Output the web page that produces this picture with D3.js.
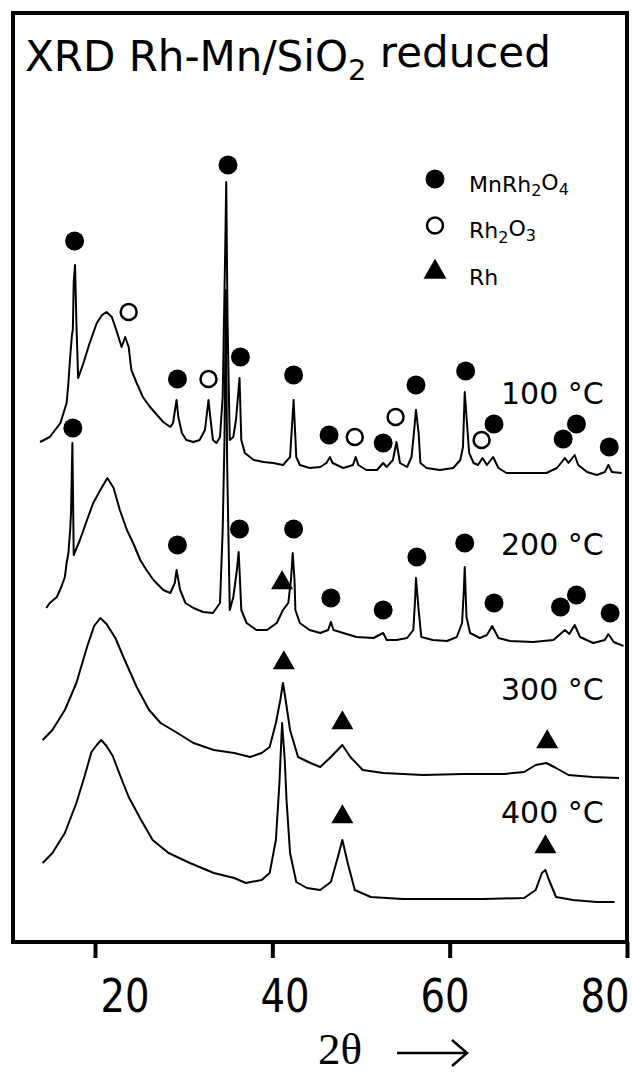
<!DOCTYPE html>
<html>
<head>
<meta charset="utf-8">
<script src="https://cdn.jsdelivr.net/npm/d3@7"></script>
<style>
  body { margin: 0; background: #fff; }
  text { font-family: "DejaVu Sans", Verdana, sans-serif; fill: #000; white-space: pre; }
</style>
</head>
<body>
<svg width="632" height="1074"></svg>
<script>
// diffraction patterns, [2theta, intensity (a.u., stacked offsets)]
const pattern100 = [
  [13.8, 500], [14.9, 505], [16.1, 519], [16.8, 539], [17.0, 559], [17.2, 585], [17.4, 607],
  [17.5, 612], [17.6, 660], [17.75, 677], [17.9, 620], [18.1, 564], [18.7, 579], [19.4, 599],
  [20.2, 619], [20.8, 627], [21.3, 630], [21.9, 625], [22.4, 612], [23.0, 595], [23.4, 605],
  [23.8, 595], [24.1, 572], [24.7, 559], [25.4, 545], [26.2, 535], [27.0, 527], [27.7, 520],
  [28.5, 515], [28.8, 519], [29.2, 542], [29.4, 525], [29.8, 509], [30.3, 502], [31.1, 500],
  [31.8, 502], [32.4, 512], [32.8, 542], [33.0, 525], [33.3, 502], [33.7, 499], [34.1, 505],
  [34.4, 545], [34.7, 700], [34.8, 760], [34.95, 620], [35.2, 502], [35.6, 505], [35.9, 522],
  [36.3, 564], [36.5, 502], [36.9, 489], [37.9, 482], [39.0, 480], [40.1, 479], [41.2, 477],
  [42.0, 485], [42.4, 542], [42.7, 485], [43.1, 477], [44.2, 474], [45.4, 475], [46.1, 479],
  [46.5, 485], [46.8, 479], [48.0, 474], [49.1, 477], [49.4, 485], [49.7, 477], [50.6, 472],
  [51.8, 472], [52.5, 479], [52.9, 475], [53.6, 482], [54.0, 500], [54.4, 479], [55.2, 475],
  [55.7, 485], [56.0, 512], [56.2, 532], [56.5, 509], [56.7, 479], [57.4, 474], [58.9, 472],
  [60.4, 474], [61.2, 482], [61.5, 495], [61.7, 550], [61.9, 525], [62.2, 489], [62.7, 479],
  [63.2, 477], [63.7, 484], [64.2, 477], [64.9, 485], [65.5, 474], [66.4, 469], [68.7, 469],
  [70.9, 469], [72.1, 474], [73.0, 484], [73.4, 479], [74.1, 487], [74.5, 477], [75.5, 470],
  [76.6, 467], [77.5, 470], [77.9, 477], [78.3, 470], [79.4, 469]
];
const pattern200 = [
  [14.5, 334], [14.9, 339], [15.7, 345], [16.2, 355], [16.6, 365], [16.8, 379], [17.0, 389],
  [17.2, 412], [17.3, 430], [17.45, 499], [17.6, 387], [18.3, 402], [19.1, 422], [19.8, 439],
  [20.6, 452], [21.4, 464], [22.1, 454], [22.8, 432], [23.6, 412], [24.3, 399], [25.1, 382],
  [25.8, 372], [26.6, 362], [27.7, 352], [28.5, 349], [29.0, 359], [29.2, 372], [29.6, 352],
  [30.2, 339], [31.1, 334], [32.2, 330], [33.3, 329], [34.1, 339], [34.4, 412], [34.6, 500],
  [34.75, 652], [34.9, 480], [35.2, 332], [35.6, 345], [36.0, 372], [36.2, 390], [36.3, 372],
  [36.5, 332], [37.1, 319], [38.2, 312], [39.4, 312], [40.5, 319], [41.2, 332], [41.8, 339],
  [42.1, 362], [42.3, 389], [42.5, 362], [42.6, 332], [43.1, 319], [44.2, 312], [45.4, 309],
  [46.3, 312], [46.6, 320], [46.9, 312], [48.0, 309], [49.5, 305], [51.4, 304], [52.5, 309],
  [52.9, 302], [54.0, 302], [55.2, 304], [55.9, 312], [56.1, 342], [56.2, 364], [56.5, 332],
  [56.8, 305], [58.1, 302], [59.7, 301], [60.8, 305], [61.4, 319], [61.6, 352], [61.7, 375],
  [61.9, 325], [62.3, 309], [63.4, 304], [64.2, 307], [64.8, 316], [65.5, 304], [66.8, 301],
  [69.4, 300], [71.7, 302], [73.0, 312], [73.5, 308], [74.1, 317], [74.7, 305], [76.2, 299],
  [77.5, 302], [77.9, 308], [78.5, 300], [79.6, 296]
];
const pattern300 = [
  [14.1, 202], [15.2, 212], [16.6, 232], [17.9, 259], [19.1, 295], [19.9, 316], [20.6, 324],
  [21.3, 318], [22.3, 304], [23.3, 283], [24.7, 255], [26.1, 232], [27.4, 219], [29.3, 209],
  [31.1, 199], [33.4, 192], [35.7, 189], [37.5, 185], [38.8, 189], [39.7, 195], [40.4, 219],
  [40.9, 242], [41.2, 259], [41.5, 242], [42.0, 212], [42.9, 185], [44.3, 179], [45.4, 175],
  [46.6, 185], [47.9, 197], [48.8, 185], [50.2, 172], [52.5, 169], [57.0, 167], [61.6, 168],
  [66.1, 168], [68.4, 170], [69.7, 177], [70.9, 179], [72.0, 174], [73.4, 167], [76.1, 165],
  [79.1, 164]
];
const pattern400 = [
  [14.1, 79], [15.2, 89], [16.6, 109], [17.9, 139], [18.8, 165], [19.6, 190], [20.2, 197],
  [20.7, 202], [21.3, 196], [22.0, 186], [22.9, 165], [23.8, 145], [25.2, 122], [26.5, 102],
  [28.3, 89], [30.7, 79], [33.4, 69], [35.7, 64], [37.0, 59], [38.8, 62], [39.7, 69],
  [40.4, 102], [40.8, 159], [41.1, 219], [41.4, 182], [41.6, 142], [42.0, 89], [42.7, 60],
  [43.9, 54], [45.4, 52], [46.6, 60], [47.3, 82], [47.9, 102], [48.5, 79], [49.3, 52],
  [51.1, 45], [54.7, 43], [59.3, 43], [63.9, 43], [68.4, 44], [69.7, 52], [70.4, 69],
  [70.8, 72], [71.2, 62], [72.0, 45], [73.9, 42], [76.6, 40], [78.6, 40]
];

// phase markers, [2theta, intensity]
const mnRh2O4Marks = [
  [17.7, 701], [35.0, 777], [29.3, 563], [36.4, 585], [42.4, 567], [46.4, 507], [52.5, 499],
  [56.2, 557], [61.8, 571], [65.0, 518], [72.8, 503], [74.3, 518], [78.0, 495],
  [17.5, 514], [29.3, 397], [36.3, 413], [42.4, 413], [46.6, 344], [52.5, 332], [56.3, 385],
  [61.7, 399], [65.0, 339], [72.5, 335], [74.3, 347], [78.1, 329]
];
const rh2O3Marks = [[23.8, 630], [32.8, 563], [49.3, 505], [53.9, 525], [63.6, 502]];
const rhMarks = [[41.1, 359], [41.3, 279], [47.9, 219], [71.0, 200], [47.9, 125], [70.8, 95]];

const patterns = [pattern100, pattern200, pattern300, pattern400];
const tempLabels = ["100 °C", "200 °C", "300 °C", "400 °C"];
const tempLabelY = [538, 387, 242, 119];

const xTicks = [20, 40, 60, 80];
const xTickLabels = ["20", "40", "60", "80"];

const titleParts = ["XRD Rh-Mn/SiO", "2", " reduced"];
const legendNames = [["MnRh", "2", "O", "4"], ["Rh", "2", "O", "3"], ["Rh"]];
const legendKinds = ["filled", "open", "triangle"];

const svg = d3.select("svg");

const frame = {left: 13, right: 627, top: 13, bottom: 942};

const x = d3.scaleLinear().domain([20, 80]).range([95, 627]);
const y = d3.scaleLinear().domain([0, 930]).range([frame.bottom, frame.bottom - 930]);
// the printed numbers sit a bit apart from their tick marks in the original figure
const xLabel = d3.scaleLinear().domain([20, 80]).range([125, 605]);

// writes alternating normal / subscript pieces into a text element
function subText(sel, parts, subSize) {
    parts.forEach((p, i) => {
        const isSub = i % 2 === 1;
        const prevSub = i > 0 && !isSub;
        sel.append("tspan")
            .attr("font-size", isSub ? subSize : null)
            .attr("dy", isSub ? "0.3em" : (prevSub ? "-0.3em" : null))
            .text(p);
    });
}

// curves
const line = d3.line().x(d => x(d[0])).y(d => y(d[1]));
svg.append("g")
    .selectAll("path")
    .data(patterns)
    .enter().append("path")
    .attr("d", line)
    .attr("fill", "none")
    .attr("stroke", "#000")
    .attr("stroke-width", 2)
    .attr("stroke-linejoin", "round");

// markers
const marks = svg.append("g");
marks.selectAll("circle.filled")
    .data(mnRh2O4Marks)
    .enter().append("circle")
    .attr("class", "filled")
    .attr("cx", d => x(d[0]))
    .attr("cy", d => y(d[1]))
    .attr("r", 9.5)
    .attr("fill", "#000");

marks.selectAll("circle.open")
    .data(rh2O3Marks)
    .enter().append("circle")
    .attr("class", "open")
    .attr("cx", d => x(d[0]))
    .attr("cy", d => y(d[1]))
    .attr("r", 8)
    .attr("fill", "#fff")
    .attr("stroke", "#000")
    .attr("stroke-width", 2.5);

const tri = d3.symbol().type(d3.symbolTriangle).size(210);
marks.selectAll("path")
    .data(rhMarks)
    .enter().append("path")
    .attr("d", tri)
    .attr("transform", d => `translate(${x(d[0])},${y(d[1])})`)
    .attr("fill", "#000");

// temperature labels
svg.append("g")
    .selectAll("text")
    .data(tempLabels)
    .enter().append("text")
    .attr("x", 501)
    .attr("y", (d, i) => y(tempLabelY[i]))
    .attr("font-size", 30)
    .text(d => d);

// legend
const legend = svg.append("g").attr("transform", "translate(435,179)");
legendKinds.forEach((k, i) => {
    const g = legend.append("g").attr("transform", `translate(0,${i * 46.5})`);
    if (k === "filled") {
        g.append("circle").attr("r", 9.5).attr("fill", "#000");
    } else if (k === "open") {
        g.append("circle").attr("r", 8).attr("fill", "#fff")
            .attr("stroke", "#000").attr("stroke-width", 2.5);
    } else {
        g.append("path").attr("d", d3.symbol().type(d3.symbolTriangle).size(230)()).attr("fill", "#000");
    }
    const t = g.append("text").attr("x", 34).attr("y", 12.5).attr("font-size", 22);
    subText(t, legendNames[i], 16);
});

// title
const title = svg.append("text").attr("x", 25).attr("y", 71).attr("font-size", 42);
subText(title, titleParts, 29);

// frame
svg.append("rect")
    .attr("x", frame.left)
    .attr("y", frame.top)
    .attr("width", frame.right - frame.left)
    .attr("height", frame.bottom - frame.top)
    .attr("fill", "none")
    .attr("stroke", "#000")
    .attr("stroke-width", 4);

// x axis: ticks only, the frame gives the baseline
const axis = svg.append("g")
    .attr("transform", `translate(0,${frame.bottom})`)
    .call(d3.axisBottom(x).tickValues(xTicks).tickSize(16).tickFormat(""));
axis.select(".domain").remove();
axis.selectAll(".tick line").attr("stroke", "#000").attr("stroke-width", 4);

svg.append("g")
    .selectAll("text")
    .data(xTicks)
    .enter().append("text")
    .attr("transform", d => `translate(${xLabel(d)},1012) scale(0.84,1)`)
    .attr("text-anchor", "middle")
    .attr("font-size", 46)
    .text((d, i) => xTickLabels[i]);

// axis title: 2θ with a long arrow
svg.append("text")
    .attr("x", 318)
    .attr("y", 1064)
    .attr("font-size", 45)
    .style("font-family", "'Liberation Serif', 'Times New Roman', serif")
    .text("2θ");

svg.append("path")
    .attr("d", "M397,1053H466M452,1040L467,1053L452,1066")
    .attr("fill", "none")
    .attr("stroke", "#000")
    .attr("stroke-width", 2.5);
</script>
</body>
</html>
